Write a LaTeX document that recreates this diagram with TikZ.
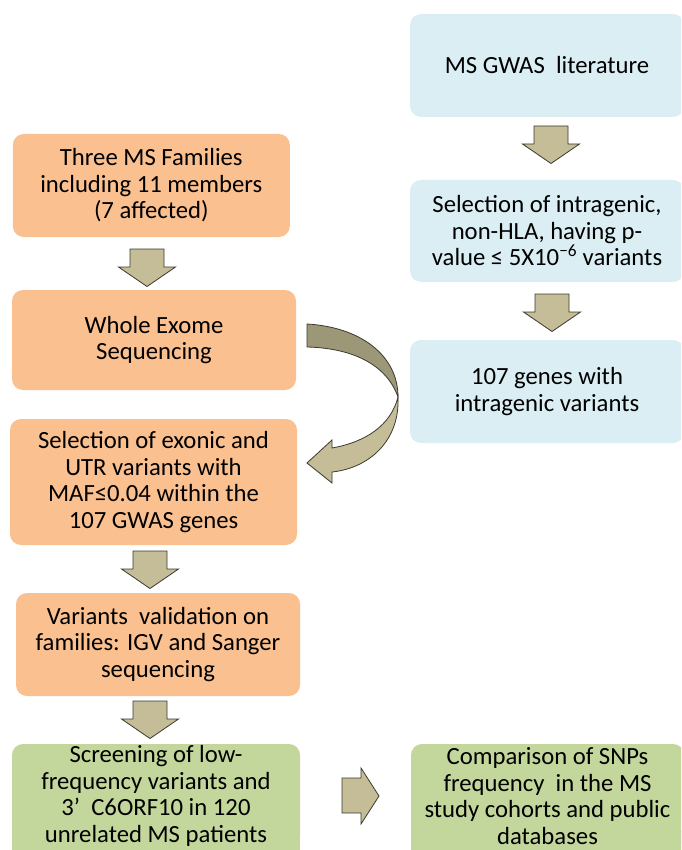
\documentclass[tikz,border=0pt]{standalone}
\usepackage{fontspec}
\setmainfont{Carlito}
\definecolor{orangebox}{HTML}{FAC090}
\definecolor{bluebox}{HTML}{DBEEF4}
\definecolor{greenbox}{HTML}{C3D69B}
\definecolor{arrowfill}{HTML}{C4BD97}
\definecolor{arrowdark}{HTML}{9C9776}
\definecolor{arrowline}{HTML}{3A3A30}
\tikzset{
  box/.style={rounded corners=11pt, inner sep=0pt, align=center, text=black,
    font=\fontsize{24.7}{26.5}\selectfont},
  obox/.style={box, fill=orangebox},
  bbox/.style={box, fill=bluebox},
  gbox/.style={box, fill=greenbox},
  arrowstyle/.style={fill=arrowfill, draw=arrowline, line width=0.8pt, line join=miter},
  darrow/.pic={\filldraw[arrowstyle] (-17,0) -- (17,0) -- (17,18) -- (28.5,18) -- (0,37.5) -- (-28.5,18) -- (-17,18) -- cycle;}
}
\begin{document}
\begin{tikzpicture}[x=1pt,y=-1pt]
\useasboundingbox (0,0) rectangle (681,850);
\clip (0,0) rectangle (681,850);
\fill[white] (0,0) rectangle (681,850);

% left column
\node[obox, minimum width=277pt, minimum height=103pt] (b1) at (151.3,185.5)
  {Three MS Families\\including 11 members\\(7 affected)};
\node[obox, minimum width=284pt, minimum height=100pt] (b2) at (154,340)
  {Whole Exome\\Sequencing};
\node[obox, minimum width=287pt, minimum height=126pt] (b3) at (153.5,482)
  {Selection of exonic and\\UTR variants with\\MAF≤0.04 within the\\107 GWAS genes};
\node[obox, minimum width=284pt, minimum height=103pt] (b4) at (158,644.5)
  {Variants\ \ validation on\\families: IGV and Sanger\\sequencing};
% the green boxes run past the lower edge
\fill[greenbox] (12,830) rectangle (300,852);
\fill[greenbox] (411,830) rectangle (684,852);
\node[gbox, minimum width=288pt, minimum height=104pt] (b5) at (156,796)
  {Screening of low-\\frequency variants and\\3’\ \ C6ORF10 in 120\\unrelated MS patients};

% right column
\node[bbox, minimum width=274pt, minimum height=103pt] (r1) at (547,65.5)
  {MS GWAS\ \ literature};
\node[bbox, minimum width=274pt, minimum height=102pt] (r2) at (547,231)
  {Selection of intragenic,\\non-HLA, having p-\\value ≤ 5X10\textsuperscript{−6} variants};
\node[bbox, minimum width=274pt, minimum height=103pt] (r3) at (547,391.5)
  {107 genes with\\intragenic variants};
\node[gbox, minimum width=273pt, minimum height=104pt] (r4) at (547.5,796)
  {Comparison of SNPs\\frequency\ \ in the MS\\study cohorts and public\\databases};

% block arrows
\pic at (147,249) {darrow};
\pic at (150,551) {darrow};
\pic at (150,701) {darrow};
\pic at (551,126) {darrow};
\pic at (552,294) {darrow};
\filldraw[arrowstyle] (342,778) -- (361,778) -- (361,768) -- (379,796) -- (361,824) -- (361,813) -- (342,813) -- cycle;

% curved arrow from b2 to b3
\filldraw[arrowstyle, fill=arrowdark] (307,324) .. controls (360,327) and (398,355) .. (398,397)
  .. controls (386,363) and (350,348) .. (307,347) -- cycle;
\filldraw[arrowstyle] (398,397) .. controls (400,440) and (370,468) .. (332,472)
  -- (332,483) -- (307,463) -- (332,440) -- (332,448)
  .. controls (366,442) and (391,425) .. (398,397) -- cycle;
\end{tikzpicture}
\end{document}
